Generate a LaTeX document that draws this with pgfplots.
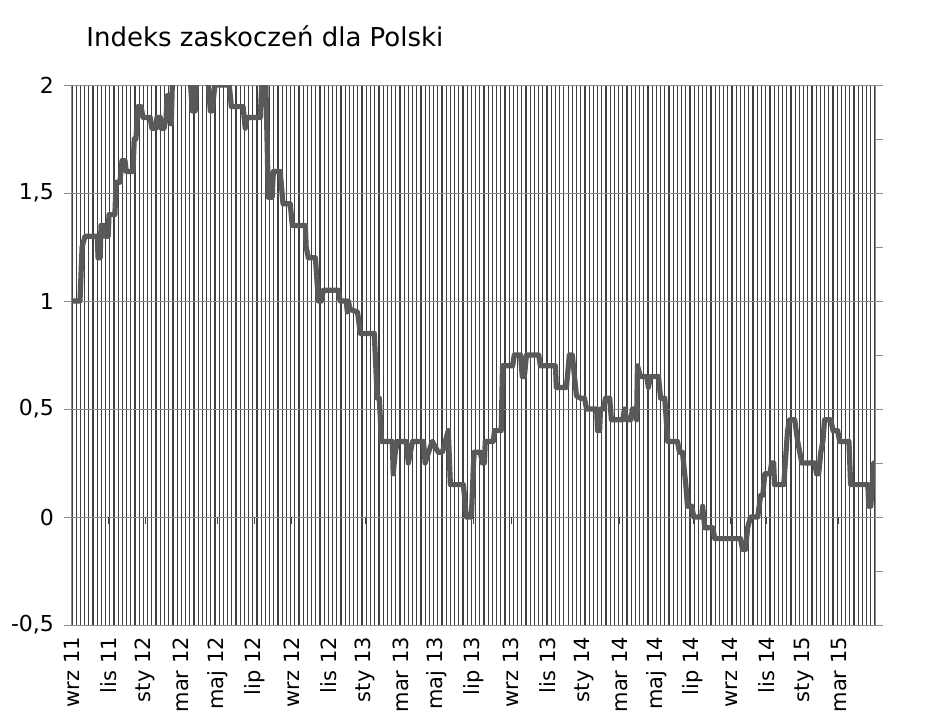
\documentclass[border=0pt]{standalone}
\usepackage{fontspec}
\setmainfont{DejaVu Sans}
\usepackage{pgfplots}
\pgfplotsset{compat=1.18}

\definecolor{seriesgray}{RGB}{89,89,89}
\definecolor{vgrid}{RGB}{64,64,64}
\definecolor{hgrid}{RGB}{140,140,140}

\begin{document}
\begin{tikzpicture}
\useasboundingbox (0,0) rectangle (465.5pt,359.5pt);
\node[anchor=base west, inner sep=0pt, font=\fontsize{13}{15}\selectfont] at (43pt,336pt) {Indeks zaskoczeń dla Polski};
\begin{axis}[
    at={(36pt,47pt)}, anchor=south west,
    scale only axis, width=401.5pt, height=270pt,
    xmin=0, xmax=191, ymin=-0.5, ymax=2,
    clip mode=individual,
    xtick={0,8.71,17.43,26,34.71,43.43,52.29,61,69.71,78.14,86.86,95.57,104.43,113.14,121.86,130.29,139,147.71,156.57,165.29,174,182.43},
    xticklabels={wrz 11,lis 11,sty 12,mar 12,maj 12,lip 12,wrz 12,lis 12,sty 13,mar 13,maj 13,lip 13,wrz 13,lis 13,sty 14,mar 14,maj 14,lip 14,wrz 14,lis 14,sty 15,mar 15},
    minor xtick={0,1,...,191},
    ytick={-0.5,0,0.5,1,1.5,2},
    xminorgrids=true, ymajorgrids=true, xmajorgrids=false,
    minor x grid style={draw=vgrid, line width=0.6pt},
    y grid style={draw=hgrid, line width=0.45pt},
    axis line style={draw=hgrid, line width=0.5pt},
    tick align=outside, major tick length=4pt, minor tick length=0pt,
    xtick style={draw=none}, ytick style={draw=hgrid, line width=0.5pt},
    ytick pos=left,
    /pgf/number format/use comma,
    /pgf/number format/assume math mode=true,
    yticklabel style={font=\fontsize{11}{13}\selectfont},
    xticklabel style={rotate=90, anchor=east, font=\fontsize{10.5}{12}\selectfont},
    xticklabel shift=-1.5pt,
    yticklabel shift=1.5pt,
]
\addplot[seriesgray, line width=2.6pt, line join=round, mark=none] coordinates {
(0,1.0) (1.9,1.0) (2.4,1.25) (3.1,1.3) (6.0,1.3) (6.2,1.2) (6.7,1.2) (6.9,1.35)
(7.6,1.35) (7.9,1.3) (8.6,1.3) (8.8,1.4) (10.2,1.4) (10.5,1.55) (11.4,1.55)
(11.9,1.65) (12.6,1.65) (12.9,1.6) (14.5,1.6) (14.8,1.75) (15.2,1.75) (15.7,1.9)
(16.4,1.9) (16.9,1.85) (18.6,1.85) (19.0,1.8) (20.0,1.8) (20.2,1.85) (21.0,1.85)
(21.2,1.8) (21.9,1.8) (22.4,1.85) (22.6,1.95) (23.3,1.95) (23.6,1.82) (24.0,2.1)
(27.9,2.1) (28.6,1.88) (29.3,1.88) (29.8,2.1) (32.1,2.1) (32.9,1.88) (33.3,1.88)
(34.0,2.0) (37.4,2.0) (37.9,1.9) (40.7,1.9) (41.2,1.8) (41.7,1.85) (44.8,1.85)
(45.0,1.95) (45.5,2.1) (46.0,2.1) (46.7,1.48) (47.6,1.48) (47.9,1.6) (49.5,1.6)
(50.2,1.45) (51.9,1.45) (52.4,1.35) (55.5,1.35) (55.7,1.25) (56.2,1.2) (57.9,1.2)
(58.6,1.0) (59.3,1.0) (59.8,1.05) (63.3,1.05) (63.8,1.0) (65.2,1.0) (65.5,0.95)
(65.7,1.0) (66.2,0.96) (67.9,0.95) (68.6,0.85) (71.9,0.85) (72.6,0.55) (73.1,0.55)
(73.6,0.35) (75.7,0.35) (76.2,0.35) (76.4,0.2) (76.9,0.3) (77.4,0.35) (79.5,0.35)
(80.0,0.25) (80.5,0.3) (81.0,0.35) (83.6,0.35) (84.0,0.25) (84.8,0.3) (85.7,0.35)
(87.1,0.3) (88.1,0.3) (88.8,0.35) (89.5,0.4) (90.0,0.15) (93.1,0.15) (93.8,0.0)
(95.0,0.0) (95.5,0.25) (95.7,0.3) (97.1,0.3) (97.6,0.25) (98.1,0.25) (98.3,0.35)
(100.2,0.35) (100.5,0.4) (102.1,0.4) (102.4,0.7) (104.8,0.7) (105.2,0.75)
(106.7,0.75) (107.1,0.65) (107.6,0.65) (108.1,0.75) (111.0,0.75) (111.4,0.7)
(115.0,0.7) (115.2,0.6) (117.6,0.6) (118.3,0.75) (119.0,0.75) (120.0,0.56)
(121.0,0.55) (121.9,0.55) (122.4,0.5) (124.8,0.5) (125.0,0.4) (125.5,0.4)
(125.7,0.5) (126.4,0.5) (126.9,0.55) (127.9,0.55) (128.3,0.45) (131.0,0.45)
(131.4,0.5) (131.9,0.45) (132.9,0.45) (133.3,0.5) (133.8,0.5) (134.3,0.45)
(134.5,0.7) (135.2,0.65) (136.7,0.65) (137.1,0.6) (137.6,0.65) (139.5,0.65)
(140.0,0.55) (141.0,0.55) (141.7,0.35) (144.0,0.35) (144.5,0.3) (145.2,0.3)
(146.0,0.15) (146.4,0.05) (147.4,0.05) (147.9,0.0) (149.8,0.0) (150.0,0.05)
(150.5,-0.05) (152.4,-0.05) (152.9,-0.1) (159.0,-0.1) (159.5,-0.15) (160.2,-0.15)
(160.7,-0.05) (161.4,0.0) (163.1,0.0) (163.8,0.1) (164.3,0.1) (164.8,0.2)
(166.0,0.2) (166.4,0.25) (166.9,0.25) (167.1,0.15) (169.3,0.15) (170.2,0.4)
(170.7,0.45) (171.9,0.45) (172.6,0.35) (173.1,0.3) (173.6,0.25) (176.7,0.25)
(177.1,0.2) (177.6,0.2) (178.1,0.3) (178.6,0.35) (179.0,0.45) (180.5,0.45)
(181.0,0.4) (182.1,0.4) (182.6,0.35) (184.8,0.35) (185.2,0.15) (189.3,0.15)
(189.5,0.05) (190.0,0.05) (190.7,0.25) (191.0,0.25)
};
% short marks on the right side every 0.25 and on the zero line at each label
\pgfplotsinvokeforeach{-0.5,-0.25,0,0.25,0.5,0.75,1,1.25,1.5,1.75,2}{
  \draw[hgrid, line width=0.5pt] (axis cs:191,#1) -- ++(4pt,0pt);
}
\pgfplotsinvokeforeach{8.71,17.43,26,34.71,43.43,52.29,61,69.71,78.14,86.86,95.57,104.43,113.14,121.86,130.29,139,147.71,156.57,165.29,174,182.43}{
  \draw[vgrid, line width=0.5pt] (axis cs:#1,0) -- ++(0pt,-3.5pt);
}
\end{axis}
\end{tikzpicture}
\end{document}
